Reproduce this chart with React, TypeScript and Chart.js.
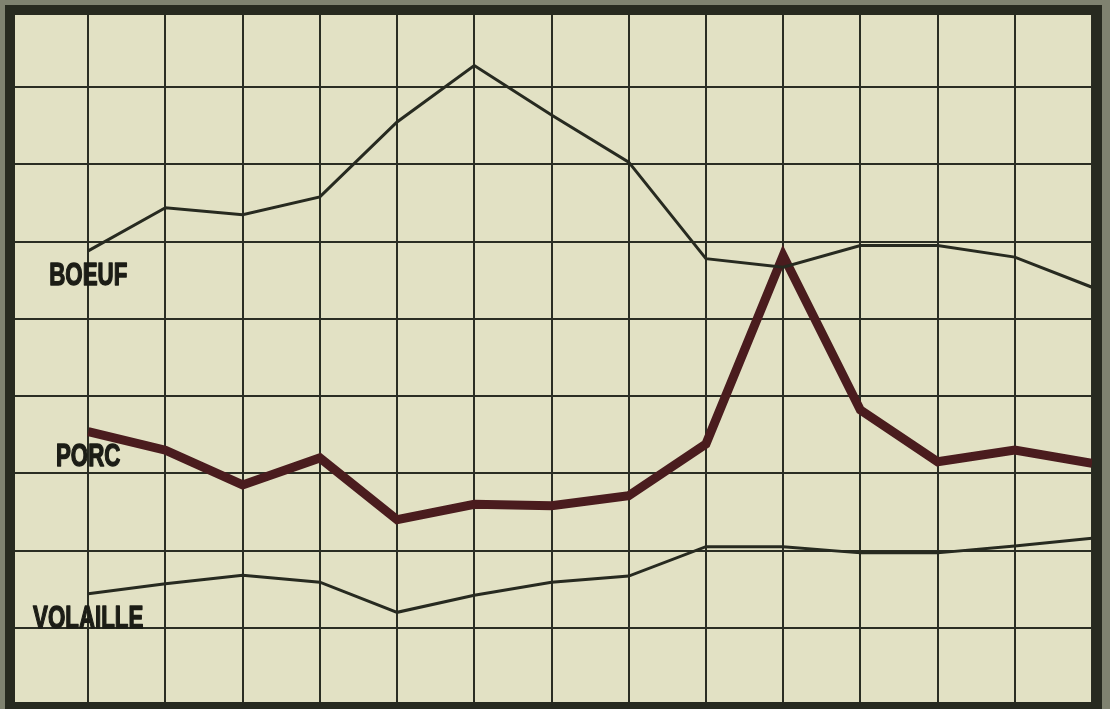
import { useEffect, useRef } from "react";
import { Chart, registerables } from "chart.js";
import type { ChartConfiguration, Plugin } from "chart.js";

Chart.register(...registerables);

// periods along the horizontal axis (one per vertical grid line)
const periods = [1, 2, 3, 4, 5, 6, 7, 8, 9, 10, 11, 12, 13, 14];

// values in grid units
const boeuf = [5.88, 6.44, 6.35, 6.58, 7.55, 8.28, 7.64, 7.03, 5.78, 5.67, 5.95, 5.95, 5.8, 5.41];
const porc = [3.54, 3.3, 2.85, 3.2, 2.4, 2.6, 2.58, 2.71, 3.38, 5.82, 3.82, 3.15, 3.3, 3.13];
const volaille = [1.44, 1.57, 1.68, 1.59, 1.2, 1.42, 1.59, 1.67, 2.05, 2.05, 1.97, 1.97, 2.06, 2.16];

const seriesNames = ["BOEUF", "PORC", "VOLAILLE"];

const PAPER = "#e2e1c4";
const INK = "#272a20";
const MAROON = "#4a1c1e";

// paper background, frame and the series names under the first points
const paperPlugin: Plugin<"line"> = {
  id: "paper",
  beforeDraw(chart) {
    const { ctx, width, height, chartArea } = chart;
    ctx.save();
    ctx.fillStyle = "#7f8270";
    ctx.fillRect(0, 0, width, height);
    ctx.fillStyle = PAPER;
    ctx.fillRect(chartArea.left, chartArea.top, chartArea.right - chartArea.left, chartArea.bottom - chartArea.top);
    ctx.restore();
  },
  afterDatasetsDraw(chart) {
    const { ctx, chartArea } = chart;
    ctx.save();
    ctx.fillStyle = "#1c1d16";
    ctx.strokeStyle = "#1c1d16";
    ctx.lineWidth = 1.4;
    ctx.lineJoin = "round";
    ctx.textAlign = "center";
    ctx.textBaseline = "alphabetic";
    ctx.font = 'bold 31px "Liberation Sans", Arial, sans-serif';
    chart.data.datasets.forEach((ds, i) => {
      const pt = chart.getDatasetMeta(i).data[0];
      if (!pt) return;
      ctx.save();
      ctx.translate(pt.x, pt.y + 34);
      ctx.scale(0.72, 1);
      ctx.fillText(String(ds.label), 0, 0);
      ctx.strokeText(String(ds.label), 0, 0);
      ctx.restore();
    });
    // dark frame around the paper
    ctx.strokeStyle = INK;
    ctx.lineWidth = 10;
    ctx.lineJoin = "miter";
    ctx.strokeRect(10, 10, chartArea.right - 5, chartArea.bottom - 8);
    ctx.restore();
  },
};

function GridChart() {
  const canvasRef = useRef<HTMLCanvasElement | null>(null);
  const chartRef = useRef<Chart<"line", { x: number; y: number }[]> | null>(null);

  useEffect(() => {
    if (!canvasRef.current) return;
    chartRef.current?.destroy();

    const toPoints = (vals: number[]) => vals.map((v, i) => ({ x: periods[i], y: v }));

    const config: ChartConfiguration<"line", { x: number; y: number }[]> = {
      type: "line",
      data: {
        datasets: [
          {
            label: seriesNames[0],
            data: toPoints(boeuf),
            borderColor: INK,
            borderWidth: 3,
            pointRadius: 0,
            tension: 0,
          },
          {
            label: seriesNames[1],
            data: toPoints(porc),
            borderColor: MAROON,
            borderWidth: 9,
            pointRadius: 0,
            tension: 0,
            borderJoinStyle: "miter",
          },
          {
            label: seriesNames[2],
            data: toPoints(volaille),
            borderColor: INK,
            borderWidth: 3,
            pointRadius: 0,
            tension: 0,
          },
        ],
      },
      options: {
        responsive: true,
        maintainAspectRatio: false,
        animation: false,
        layout: { padding: { left: 11, right: 18, top: 10, bottom: 4 } },
        plugins: {
          legend: { display: false },
          tooltip: { enabled: false },
        },
        scales: {
          x: {
            type: "linear",
            min: 0,
            max: 14,
            grid: { color: "#2a2d23", lineWidth: 2, drawTicks: false },
            border: { display: false },
            ticks: { display: false, stepSize: 1 },
          },
          y: {
            min: 0,
            max: 9,
            grid: { color: "#2a2d23", lineWidth: 2, drawTicks: false },
            border: { display: false },
            ticks: { display: false, stepSize: 1 },
          },
        },
      },
      plugins: [paperPlugin],
    };

    chartRef.current = new Chart(canvasRef.current, config);
    return () => chartRef.current?.destroy();
  }, []);

  return (
    <div style={{ position: "absolute", left: 0, top: 0, width: 1110, height: 709 }}>
      <canvas ref={canvasRef} />
    </div>
  );
}

export default function App() {
  return <GridChart />;
}
